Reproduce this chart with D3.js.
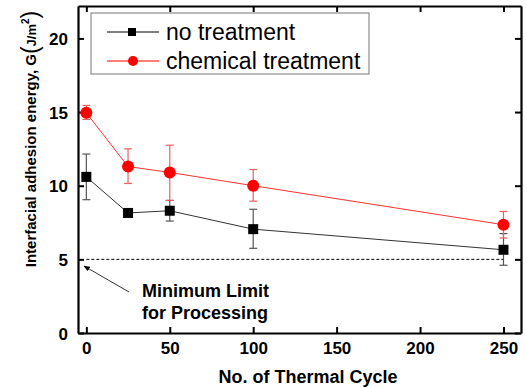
<!DOCTYPE html>
<html>
<head>
<meta charset="utf-8">
<script src="https://cdn.jsdelivr.net/npm/d3@7"></script>
<style>
  body { margin: 0; background: #fff; }
  text { font-family: Arial, "Liberation Sans", sans-serif; }
</style>
</head>
<body>
<svg id="chart" width="527" height="388"></svg>
<script>
// data
const cycles = [0, 25, 50, 100, 250];
const noTreatment = [10.6, 8.15, 8.3, 7.05, 5.65];
const noTreatmentLow = [9.05, 8.15, 7.6, 5.75, 4.6];
const noTreatmentHigh = [12.15, 8.15, 9.0, 8.4, 6.75];
const chemical = [14.95, 11.3, 10.9, 10.0, 7.35];
const chemicalLow = [14.5, 10.15, 9.0, 8.95, 6.45];
const chemicalHigh = [15.45, 12.5, 12.75, 11.1, 8.25];
const xTicks = [0, 50, 100, 150, 200, 250];
const yTicks = [0, 5, 10, 15, 20];
const minLimit = 5;

let svg = d3.select("#chart");
let plotLeft = 78, plotRight = 521, plotTop = 6, plotBottom = 333;

let xScale = d3.scaleLinear().domain([-5, 260.5]).range([plotLeft, plotRight]);
let yScale = d3.scaleLinear().domain([0, 22.2]).range([plotBottom, plotTop]);

// axes, ticks pointing inwards
let xAxis = d3.axisBottom(xScale).tickValues(xTicks).tickSizeInner(-6).tickSizeOuter(0).tickPadding(9);
let yAxis = d3.axisLeft(yScale).tickValues(yTicks).tickSizeInner(-6).tickSizeOuter(0).tickPadding(10);

let gx = svg.append("g").attr("transform", "translate(0," + plotBottom + ")").call(xAxis);
let gy = svg.append("g").attr("transform", "translate(" + plotLeft + ",0)").call(yAxis);
svg.append("g").attr("transform", "translate(0," + plotTop + ")")
    .call(d3.axisTop(xScale).tickValues(xTicks).tickSizeInner(-6).tickSizeOuter(0).tickFormat(""));
svg.append("g").attr("transform", "translate(" + plotRight + ",0)")
    .call(d3.axisRight(yScale).tickValues(yTicks).tickSizeInner(-6).tickSizeOuter(0).tickFormat(""));

svg.selectAll(".domain").attr("stroke", "#000").attr("stroke-width", 2.2);
svg.selectAll(".tick line").attr("stroke", "#000").attr("stroke-width", 2);
svg.selectAll(".tick text").attr("font-size", 17).attr("font-weight", "bold").attr("fill", "#000")
    .style("font-family", "Arial, 'Liberation Sans', sans-serif");
gy.selectAll(".tick text").attr("dy", "0.36em");

// dashed minimum line
svg.append("line")
    .attr("x1", xScale(0)).attr("x2", xScale(250))
    .attr("y1", yScale(minLimit)).attr("y2", yScale(minLimit))
    .attr("stroke", "#000").attr("stroke-width", 1).attr("stroke-dasharray", "3,2");

function drawSeries(vals, lows, highs, lineColor, barColor, shape) {
    let pts = cycles.map((c, i) => ({x: c, y: vals[i], lo: lows[i], hi: highs[i]}));
    let line = d3.line().x(d => xScale(d.x)).y(d => yScale(d.y));
    svg.append("path").datum(pts).attr("d", line)
        .attr("fill", "none").attr("stroke", lineColor).attr("stroke-width", 1);

    let eb = svg.append("g").attr("stroke", barColor).attr("stroke-width", 1.2);
    pts.forEach(function (d) {
        let cx = xScale(d.x);
        eb.append("line").attr("x1", cx).attr("x2", cx).attr("y1", yScale(d.lo)).attr("y2", yScale(d.hi));
        eb.append("line").attr("x1", cx - 4).attr("x2", cx + 4).attr("y1", yScale(d.lo)).attr("y2", yScale(d.lo));
        eb.append("line").attr("x1", cx - 4).attr("x2", cx + 4).attr("y1", yScale(d.hi)).attr("y2", yScale(d.hi));
    });

    if (shape == "square") {
        svg.selectAll(null).data(pts).enter().append("rect")
            .attr("x", d => xScale(d.x) - 5).attr("y", d => yScale(d.y) - 5)
            .attr("width", 10).attr("height", 10).attr("fill", "#000");
    } else {
        svg.selectAll(null).data(pts).enter().append("circle")
            .attr("cx", d => xScale(d.x)).attr("cy", d => yScale(d.y))
            .attr("r", 6).attr("fill", "#ff0000");
    }
}

drawSeries(noTreatment, noTreatmentLow, noTreatmentHigh, "#333", "#555", "square");
drawSeries(chemical, chemicalLow, chemicalHigh, "#ff3030", "#f06060", "circle");

// legend
let legend = svg.append("g");
legend.append("rect").attr("x", 91).attr("y", 13).attr("width", 278).attr("height", 61)
    .attr("fill", "#fff").attr("stroke", "#777").attr("stroke-width", 1);
let legendItems = [
    {label: "no treatment", color: "#000", shape: "square", y: 32},
    {label: "chemical treatment", color: "#ff0000", shape: "circle", y: 61}
];
legendItems.forEach(function (d) {
    legend.append("line").attr("x1", 107).attr("x2", 159).attr("y1", d.y).attr("y2", d.y)
        .attr("stroke", d.color).attr("stroke-width", 1);
    if (d.shape == "square") {
        legend.append("rect").attr("x", 128).attr("y", d.y - 4).attr("width", 8).attr("height", 8).attr("fill", d.color);
    } else {
        legend.append("circle").attr("cx", 133).attr("cy", d.y).attr("r", 5).attr("fill", d.color);
    }
    legend.append("text").attr("x", 166).attr("y", d.y).attr("dy", "0.35em")
        .attr("font-size", 23).attr("fill", "#000").text(d.label);
});

// annotation
svg.append("defs").append("marker").attr("id", "arrow")
    .attr("viewBox", "0 0 10 10").attr("refX", 9).attr("refY", 5)
    .attr("markerWidth", 8).attr("markerHeight", 8).attr("orient", "auto")
    .append("path").attr("d", "M0,1 L10,5 L0,9 Z").attr("fill", "#000");
svg.append("line").attr("x1", 129).attr("y1", 292).attr("x2", 84).attr("y2", 266)
    .attr("stroke", "#000").attr("stroke-width", 0.8).attr("marker-end", "url(#arrow)");
svg.append("text").attr("x", 142).attr("y", 297).attr("font-size", 18).attr("font-weight", "bold").text("Minimum Limit");
svg.append("text").attr("x", 142).attr("y", 319).attr("font-size", 18).attr("font-weight", "bold").text("for Processing");

// axis titles
svg.append("text").attr("x", 308).attr("y", 383).attr("text-anchor", "middle")
    .attr("font-size", 18).attr("font-weight", "bold").text("No. of Thermal Cycle");

let ylab = svg.append("text").attr("transform", "translate(36,139) rotate(-90)")
    .attr("text-anchor", "middle").attr("font-size", 15).attr("font-weight", "bold");
ylab.append("tspan").text("Interfacial adhesion energy, G");
ylab.append("tspan").attr("font-size", 23).attr("font-weight", "normal").attr("dy", "2").text("(");
ylab.append("tspan").attr("dy", "-2").attr("font-size", 13).text("J/m");
ylab.append("tspan").attr("font-size", 10).attr("dy", "-7").text("2");
ylab.append("tspan").attr("font-size", 23).attr("font-weight", "normal").attr("dy", "9").text(")");
</script>
</body>
</html>
